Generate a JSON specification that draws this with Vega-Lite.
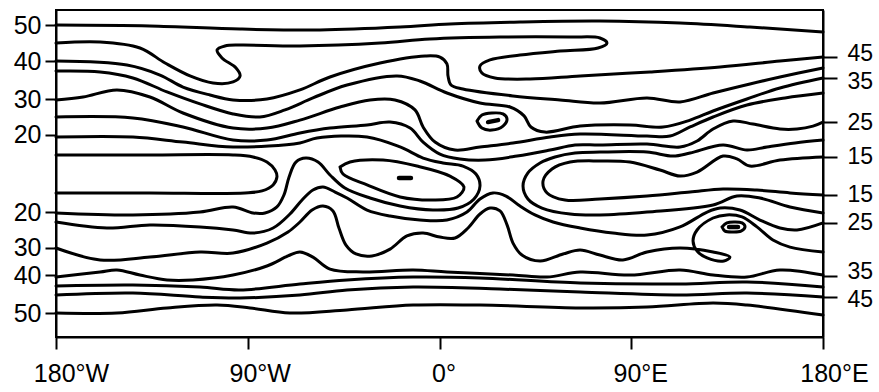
{
"$schema": "https://vega.github.io/schema/vega-lite/v6.json",
"width": 767, "height": 327,
"autosize": {"type": "none"},
"padding": {"left": 56, "top": 10, "right": 56, "bottom": 55},
"background": "white",
"config": {
  "view": {"stroke": "black", "strokeWidth": 2},
  "axis": {"grid": false, "domainColor": "black", "domainWidth": 2, "tickColor": "black", "tickWidth": 2, "labelColor": "black", "labelFont": "Liberation Sans", "labelFontSize": 25, "title": null, "labelOverlap": false}
},
"datasets": {"contours": [
{"c":"N50","i":0,"lon":-180,"lat":81.7},{"c":"N50","i":1,"lon":-135.9,"lat":81.2},{"c":"N50","i":2,"lon":-93.6,"lat":79.5},{"c":"N50","i":3,"lon":-56.1,"lat":79.0},{"c":"N50","i":4,"lon":-18.5,"lat":80.6},{"c":"N50","i":5,"lon":4.9,"lat":82.3},{"c":"N50","i":6,"lon":37.8,"lat":83.4},{"c":"N50","i":7,"lon":75.3,"lat":83.9},{"c":"N50","i":8,"lon":112.9,"lat":82.8},{"c":"N50","i":9,"lon":145.7,"lat":80.6},{"c":"N50","i":10,"lon":180,"lat":77.9},
{"c":"N45","i":0,"lon":-180,"lat":71.8},{"c":"N45","i":1,"lon":-159.3,"lat":72.4},{"c":"N45","i":2,"lon":-140.6,"lat":69.1},{"c":"N45","i":3,"lon":-128.8,"lat":60.8},{"c":"N45","i":4,"lon":-117.1,"lat":53.7},{"c":"N45","i":5,"lon":-106.3,"lat":49.8},{"c":"N45","i":6,"lon":-96.9,"lat":50.4},{"c":"N45","i":7,"lon":-93.6,"lat":53.7},{"c":"N45","i":8,"lon":-95.5,"lat":58.1},{"c":"N45","i":9,"lon":-102.1,"lat":63.6},{"c":"N45","i":10,"lon":-104.4,"lat":68.0},{"c":"N45","i":11,"lon":-100.7,"lat":70.2},{"c":"N45","i":12,"lon":-93.6,"lat":70.7},{"c":"N45","i":13,"lon":-65.5,"lat":70.2},{"c":"N45","i":14,"lon":-27.9,"lat":71.8},{"c":"N45","i":15,"lon":-4.5,"lat":74.0},{"c":"N45","i":16,"lon":28.4,"lat":75.1},{"c":"N45","i":17,"lon":61.3,"lat":75.1},{"c":"N45","i":18,"lon":75.3,"lat":74.6},{"c":"N45","i":19,"lon":78.6,"lat":71.8},{"c":"N45","i":20,"lon":74.4,"lat":69.1},{"c":"N45","i":21,"lon":56.6,"lat":67.4},{"c":"N45","i":22,"lon":37.8,"lat":65.2},{"c":"N45","i":23,"lon":23.7,"lat":62.5},{"c":"N45","i":24,"lon":19.0,"lat":59.2},{"c":"N45","i":25,"lon":19.9,"lat":55.3},{"c":"N45","i":26,"lon":26.0,"lat":52.6},{"c":"N45","i":27,"lon":42.5,"lat":52.0},{"c":"N45","i":28,"lon":66.0,"lat":53.7},{"c":"N45","i":29,"lon":98.8,"lat":55.9},{"c":"N45","i":30,"lon":131.7,"lat":58.6},{"c":"N45","i":31,"lon":159.8,"lat":61.9},{"c":"N45","i":32,"lon":180,"lat":64.1},
{"c":"N40","i":0,"lon":-180,"lat":61.9},{"c":"N40","i":1,"lon":-146.7,"lat":59.7},{"c":"N40","i":2,"lon":-131.2,"lat":54.2},{"c":"N40","i":3,"lon":-120.4,"lat":47.6},{"c":"N40","i":4,"lon":-107.7,"lat":43.2},{"c":"N40","i":5,"lon":-96.9,"lat":40.5},{"c":"N40","i":6,"lon":-81.0,"lat":41.0},{"c":"N40","i":7,"lon":-65.5,"lat":46.0},{"c":"N40","i":8,"lon":-51.4,"lat":53.1},{"c":"N40","i":9,"lon":-27.9,"lat":60.8},{"c":"N40","i":10,"lon":-6.8,"lat":64.7},{"c":"N40","i":11,"lon":0.2,"lat":64.1},{"c":"N40","i":12,"lon":3.5,"lat":60.3},{"c":"N40","i":13,"lon":4.0,"lat":53.7},{"c":"N40","i":14,"lon":5.4,"lat":48.7},{"c":"N40","i":15,"lon":11.0,"lat":46.5},{"c":"N40","i":16,"lon":34.5,"lat":42.7},{"c":"N40","i":17,"lon":56.6,"lat":40.5},{"c":"N40","i":18,"lon":75.3,"lat":38.8},{"c":"N40","i":19,"lon":97.4,"lat":41.6},{"c":"N40","i":20,"lon":112.9,"lat":39.4},{"c":"N40","i":21,"lon":128.4,"lat":44.3},{"c":"N40","i":22,"lon":145.7,"lat":49.3},{"c":"N40","i":23,"lon":159.8,"lat":53.1},{"c":"N40","i":24,"lon":180,"lat":58.1},
{"c":"N35","i":0,"lon":-180,"lat":56.4},{"c":"N35","i":1,"lon":-159.3,"lat":55.9},{"c":"N35","i":2,"lon":-143.9,"lat":52.6},{"c":"N35","i":3,"lon":-127.9,"lat":44.9},{"c":"N35","i":4,"lon":-112.4,"lat":38.3},{"c":"N35","i":5,"lon":-96.9,"lat":32.8},{"c":"N35","i":6,"lon":-84.3,"lat":31.1},{"c":"N35","i":7,"lon":-72.5,"lat":35.0},{"c":"N35","i":8,"lon":-59.4,"lat":41.6},{"c":"N35","i":9,"lon":-43.4,"lat":48.7},{"c":"N35","i":10,"lon":-19.9,"lat":53.7},{"c":"N35","i":11,"lon":-9.2,"lat":50.9},{"c":"N35","i":12,"lon":3.5,"lat":44.3},{"c":"N35","i":13,"lon":19.0,"lat":38.8},{"c":"N35","i":14,"lon":33.1,"lat":36.6},{"c":"N35","i":15,"lon":39.7,"lat":31.7},{"c":"N35","i":16,"lon":42.9,"lat":25.6},{"c":"N35","i":17,"lon":49.5,"lat":22.8},{"c":"N35","i":18,"lon":66.0,"lat":26.1},{"c":"N35","i":19,"lon":89.4,"lat":26.7},{"c":"N35","i":20,"lon":104.9,"lat":25.6},{"c":"N35","i":21,"lon":117.6,"lat":29.4},{"c":"N35","i":22,"lon":128.4,"lat":34.4},{"c":"N35","i":23,"lon":144.3,"lat":41.0},{"c":"N35","i":24,"lon":159.8,"lat":47.1},{"c":"N35","i":25,"lon":180,"lat":52.6},
{"c":"N30","i":0,"lon":-180,"lat":40.5},{"c":"N30","i":1,"lon":-167.3,"lat":42.1},{"c":"N30","i":2,"lon":-151.4,"lat":46.0},{"c":"N30","i":3,"lon":-135.9,"lat":42.1},{"c":"N30","i":4,"lon":-120.4,"lat":33.3},{"c":"N30","i":5,"lon":-96.9,"lat":25.0},{"c":"N30","i":6,"lon":-81.0,"lat":25.0},{"c":"N30","i":7,"lon":-65.5,"lat":29.4},{"c":"N30","i":8,"lon":-46.7,"lat":36.6},{"c":"N30","i":9,"lon":-32.6,"lat":40.5},{"c":"N30","i":10,"lon":-20.9,"lat":40.5},{"c":"N30","i":11,"lon":-11.5,"lat":35.0},{"c":"N30","i":12,"lon":-7.7,"lat":25.6},{"c":"N30","i":13,"lon":-2.1,"lat":17.3},{"c":"N30","i":14,"lon":7.3,"lat":12.9},{"c":"N30","i":15,"lon":19.0,"lat":14.6},{"c":"N30","i":16,"lon":34.5,"lat":16.8},{"c":"N30","i":17,"lon":51.9,"lat":20.1},{"c":"N30","i":18,"lon":66.0,"lat":21.7},{"c":"N30","i":19,"lon":97.4,"lat":20.6},{"c":"N30","i":20,"lon":108.2,"lat":20.6},{"c":"N30","i":21,"lon":117.6,"lat":25.6},{"c":"N30","i":22,"lon":128.4,"lat":31.1},{"c":"N30","i":23,"lon":144.3,"lat":37.7},{"c":"N30","i":24,"lon":162.2,"lat":41.6},{"c":"N30","i":25,"lon":180,"lat":44.3},
{"c":"N25","i":0,"lon":-180,"lat":31.1},{"c":"N25","i":1,"lon":-143.9,"lat":30.6},{"c":"N25","i":2,"lon":-120.4,"lat":25.6},{"c":"N25","i":3,"lon":-96.9,"lat":18.4},{"c":"N25","i":4,"lon":-81.0,"lat":18.4},{"c":"N25","i":5,"lon":-65.5,"lat":22.3},{"c":"N25","i":6,"lon":-51.4,"lat":25.0},{"c":"N25","i":7,"lon":-34.0,"lat":26.7},{"c":"N25","i":8,"lon":-23.2,"lat":28.3},{"c":"N25","i":9,"lon":-13.8,"lat":25.0},{"c":"N25","i":10,"lon":-7.7,"lat":17.3},{"c":"N25","i":11,"lon":0.2,"lat":10.7},{"c":"N25","i":12,"lon":9.6,"lat":8.0},{"c":"N25","i":13,"lon":21.4,"lat":7.4},{"c":"N25","i":14,"lon":36.4,"lat":9.6},{"c":"N25","i":15,"lon":51.9,"lat":12.9},{"c":"N25","i":16,"lon":63.6,"lat":15.7},{"c":"N25","i":17,"lon":75.3,"lat":15.7},{"c":"N25","i":18,"lon":97.4,"lat":16.2},{"c":"N25","i":19,"lon":112.9,"lat":14.6},{"c":"N25","i":20,"lon":120.9,"lat":17.9},{"c":"N25","i":21,"lon":128.4,"lat":24.5},{"c":"N25","i":22,"lon":137.8,"lat":28.9},{"c":"N25","i":23,"lon":147.1,"lat":27.2},{"c":"N25","i":24,"lon":159.8,"lat":24.5},{"c":"N25","i":25,"lon":167.8,"lat":24.5},{"c":"N25","i":26,"lon":175.3,"lat":26.1},{"c":"N25","i":27,"lon":180,"lat":28.3},
{"c":"C20L","i":0,"lon":-180,"lat":20.1},{"c":"C20L","i":1,"lon":-143.9,"lat":20.1},{"c":"C20L","i":2,"lon":-120.4,"lat":17.3},{"c":"C20L","i":3,"lon":-96.9,"lat":14.6},{"c":"C20L","i":4,"lon":-65.5,"lat":16.8},{"c":"C20L","i":5,"lon":-57.5,"lat":19.5},{"c":"C20L","i":6,"lon":-34.0,"lat":20.1},{"c":"C20L","i":7,"lon":-18.5,"lat":14.6},{"c":"C20L","i":8,"lon":-7.7,"lat":8.5},{"c":"C20L","i":9,"lon":1.6,"lat":5.8},{"c":"C20L","i":10,"lon":11.0,"lat":4.1},{"c":"C20L","i":11,"lon":17.1,"lat":-0.3},{"c":"C20L","i":12,"lon":19.0,"lat":-6.9},{"c":"C20L","i":13,"lon":16.2,"lat":-14.0},{"c":"C20L","i":14,"lon":8.7,"lat":-19.0},{"c":"C20L","i":15,"lon":-3.1,"lat":-20.1},{"c":"C20L","i":16,"lon":-18.5,"lat":-17.9},{"c":"C20L","i":17,"lon":-32.6,"lat":-13.5},{"c":"C20L","i":18,"lon":-44.4,"lat":-8.0},{"c":"C20L","i":19,"lon":-51.4,"lat":-0.8},{"c":"C20L","i":20,"lon":-57.0,"lat":6.3},{"c":"C20L","i":21,"lon":-62.7,"lat":8.5},{"c":"C20L","i":22,"lon":-67.4,"lat":6.3},{"c":"C20L","i":23,"lon":-70.6,"lat":-1.9},{"c":"C20L","i":24,"lon":-73.0,"lat":-11.8},{"c":"C20L","i":25,"lon":-76.3,"lat":-18.4},{"c":"C20L","i":26,"lon":-81.9,"lat":-21.7},{"c":"C20L","i":27,"lon":-87.5,"lat":-21.7},{"c":"C20L","i":28,"lon":-96.9,"lat":-18.4},{"c":"C20L","i":29,"lon":-112.4,"lat":-21.2},{"c":"C20L","i":30,"lon":-143.9,"lat":-22.8},{"c":"C20L","i":31,"lon":-180,"lat":-21.7},
{"c":"L15","i":0,"lon":-180,"lat":10.2},{"c":"L15","i":1,"lon":-135.9,"lat":10.2},{"c":"L15","i":2,"lon":-96.9,"lat":10.2},{"c":"L15","i":3,"lon":-87.5,"lat":9.1},{"c":"L15","i":4,"lon":-81.0,"lat":6.3},{"c":"L15","i":5,"lon":-77.2,"lat":1.9},{"c":"L15","i":6,"lon":-76.3,"lat":-1.9},{"c":"L15","i":7,"lon":-78.1,"lat":-6.3},{"c":"L15","i":8,"lon":-83.3,"lat":-9.6},{"c":"L15","i":9,"lon":-91.3,"lat":-10.7},{"c":"L15","i":10,"lon":-135.9,"lat":-10.7},{"c":"L15","i":11,"lon":-180,"lat":-10.7},
{"c":"OVAL","i":0,"lon":-46.7,"lat":3.6},{"c":"OVAL","i":1,"lon":-42.0,"lat":6.3},{"c":"OVAL","i":2,"lon":-26.5,"lat":7.4},{"c":"OVAL","i":3,"lon":-10.6,"lat":4.1},{"c":"OVAL","i":4,"lon":4.9,"lat":-1.4},{"c":"OVAL","i":5,"lon":11.5,"lat":-7.4},{"c":"OVAL","i":6,"lon":8.2,"lat":-12.9},{"c":"OVAL","i":7,"lon":-3.1,"lat":-14.6},{"c":"OVAL","i":8,"lon":-18.5,"lat":-12.9},{"c":"OVAL","i":9,"lon":-34.0,"lat":-6.3},{"c":"OVAL","i":10,"lon":-45.3,"lat":-0.3},{"c":"OVAL","i":11,"lon":-46.7,"lat":3.6},
{"c":"S25","i":0,"lon":-180,"lat":-26.7},{"c":"S25","i":1,"lon":-156.1,"lat":-30.0},{"c":"S25","i":2,"lon":-135.9,"lat":-28.3},{"c":"S25","i":3,"lon":-112.4,"lat":-29.4},{"c":"S25","i":4,"lon":-96.9,"lat":-31.1},{"c":"S25","i":5,"lon":-87.5,"lat":-32.8},{"c":"S25","i":6,"lon":-78.1,"lat":-30.0},{"c":"S25","i":7,"lon":-70.2,"lat":-22.3},{"c":"S25","i":8,"lon":-64.5,"lat":-14.6},{"c":"S25","i":9,"lon":-59.4,"lat":-9.1},{"c":"S25","i":10,"lon":-54.7,"lat":-7.4},{"c":"S25","i":11,"lon":-49.0,"lat":-10.2},{"c":"S25","i":12,"lon":-43.4,"lat":-13.5},{"c":"S25","i":13,"lon":-34.0,"lat":-20.1},{"c":"S25","i":14,"lon":-23.2,"lat":-23.4},{"c":"S25","i":15,"lon":-9.2,"lat":-25.6},{"c":"S25","i":16,"lon":3.5,"lat":-25.6},{"c":"S25","i":17,"lon":12.9,"lat":-21.2},{"c":"S25","i":18,"lon":19.0,"lat":-14.0},{"c":"S25","i":19,"lon":25.1,"lat":-10.7},{"c":"S25","i":20,"lon":31.2,"lat":-12.4},{"c":"S25","i":21,"lon":37.8,"lat":-17.9},{"c":"S25","i":22,"lon":44.8,"lat":-22.8},{"c":"S25","i":23,"lon":53.3,"lat":-26.7},{"c":"S25","i":24,"lon":66.0,"lat":-30.0},{"c":"S25","i":25,"lon":81.4,"lat":-32.8},{"c":"S25","i":26,"lon":97.4,"lat":-33.9},{"c":"S25","i":27,"lon":112.9,"lat":-29.4},{"c":"S25","i":28,"lon":125.6,"lat":-21.2},{"c":"S25","i":29,"lon":131.7,"lat":-19.0},{"c":"S25","i":30,"lon":141.0,"lat":-20.1},{"c":"S25","i":31,"lon":150.4,"lat":-25.6},{"c":"S25","i":32,"lon":159.8,"lat":-30.0},{"c":"S25","i":33,"lon":167.8,"lat":-31.1},{"c":"S25","i":34,"lon":180,"lat":-27.2},
{"c":"C20R","i":0,"lon":180,"lat":18.4},{"c":"C20R","i":1,"lon":166.9,"lat":16.8},{"c":"C20R","i":2,"lon":153.7,"lat":14.6},{"c":"C20R","i":3,"lon":144.3,"lat":12.9},{"c":"C20R","i":4,"lon":133.1,"lat":15.7},{"c":"C20R","i":5,"lon":117.6,"lat":11.3},{"c":"C20R","i":6,"lon":109.6,"lat":9.6},{"c":"C20R","i":7,"lon":97.4,"lat":11.8},{"c":"C20R","i":8,"lon":75.3,"lat":11.8},{"c":"C20R","i":9,"lon":63.6,"lat":11.3},{"c":"C20R","i":10,"lon":54.2,"lat":9.1},{"c":"C20R","i":11,"lon":47.2,"lat":5.8},{"c":"C20R","i":12,"lon":41.5,"lat":0.3},{"c":"C20R","i":13,"lon":39.2,"lat":-6.9},{"c":"C20R","i":14,"lon":41.5,"lat":-14.0},{"c":"C20R","i":15,"lon":48.1,"lat":-19.0},{"c":"C20R","i":16,"lon":61.3,"lat":-22.3},{"c":"C20R","i":17,"lon":75.3,"lat":-22.8},{"c":"C20R","i":18,"lon":97.4,"lat":-21.2},{"c":"C20R","i":19,"lon":128.4,"lat":-17.3},{"c":"C20R","i":20,"lon":139.6,"lat":-12.4},{"c":"C20R","i":21,"lon":150.4,"lat":-13.5},{"c":"C20R","i":22,"lon":164.5,"lat":-18.4},{"c":"C20R","i":23,"lon":180,"lat":-21.7},
{"c":"R15","i":0,"lon":180,"lat":9.1},{"c":"R15","i":1,"lon":159.8,"lat":7.4},{"c":"R15","i":2,"lon":145.7,"lat":4.1},{"c":"R15","i":3,"lon":139.6,"lat":8.0},{"c":"R15","i":4,"lon":133.1,"lat":9.6},{"c":"R15","i":5,"lon":120.9,"lat":0.8},{"c":"R15","i":6,"lon":112.9,"lat":-1.4},{"c":"R15","i":7,"lon":103.5,"lat":1.9},{"c":"R15","i":8,"lon":89.4,"lat":6.3},{"c":"R15","i":9,"lon":75.3,"lat":6.9},{"c":"R15","i":10,"lon":61.3,"lat":6.3},{"c":"R15","i":11,"lon":52.8,"lat":2.5},{"c":"R15","i":12,"lon":48.6,"lat":-4.1},{"c":"R15","i":13,"lon":50.5,"lat":-10.7},{"c":"R15","i":14,"lon":58.9,"lat":-14.6},{"c":"R15","i":15,"lon":75.3,"lat":-14.0},{"c":"R15","i":16,"lon":97.4,"lat":-12.4},{"c":"R15","i":17,"lon":117.6,"lat":-10.2},{"c":"R15","i":18,"lon":133.1,"lat":-8.5},{"c":"R15","i":19,"lon":149.0,"lat":-9.1},{"c":"R15","i":20,"lon":164.5,"lat":-10.7},{"c":"R15","i":21,"lon":180,"lat":-11.8},
{"c":"S30","i":0,"lon":-180,"lat":-41.0},{"c":"S30","i":1,"lon":-159.3,"lat":-47.6},{"c":"S30","i":2,"lon":-135.9,"lat":-46.0},{"c":"S30","i":3,"lon":-112.4,"lat":-43.2},{"c":"S30","i":4,"lon":-96.9,"lat":-43.8},{"c":"S30","i":5,"lon":-81.0,"lat":-38.3},{"c":"S30","i":6,"lon":-71.1,"lat":-32.2},{"c":"S30","i":7,"lon":-65.5,"lat":-26.7},{"c":"S30","i":8,"lon":-59.8,"lat":-20.1},{"c":"S30","i":9,"lon":-54.7,"lat":-17.9},{"c":"S30","i":10,"lon":-50.0,"lat":-20.6},{"c":"S30","i":11,"lon":-47.2,"lat":-30.0},{"c":"S30","i":12,"lon":-43.9,"lat":-39.4},{"c":"S30","i":13,"lon":-39.2,"lat":-44.3},{"c":"S30","i":14,"lon":-31.7,"lat":-45.4},{"c":"S30","i":15,"lon":-23.2,"lat":-41.6},{"c":"S30","i":16,"lon":-15.3,"lat":-34.4},{"c":"S30","i":17,"lon":-7.7,"lat":-32.8},{"c":"S30","i":18,"lon":0.2,"lat":-35.0},{"c":"S30","i":19,"lon":7.3,"lat":-35.5},{"c":"S30","i":20,"lon":13.4,"lat":-30.0},{"c":"S30","i":21,"lon":19.0,"lat":-22.3},{"c":"S30","i":22,"lon":23.7,"lat":-19.0},{"c":"S30","i":23,"lon":28.4,"lat":-20.6},{"c":"S30","i":24,"lon":31.7,"lat":-28.3},{"c":"S30","i":25,"lon":34.5,"lat":-38.3},{"c":"S30","i":26,"lon":38.7,"lat":-44.9},{"c":"S30","i":27,"lon":47.2,"lat":-48.2},{"c":"S30","i":28,"lon":58.0,"lat":-44.3},{"c":"S30","i":29,"lon":66.0,"lat":-42.1},{"c":"S30","i":30,"lon":75.3,"lat":-44.9},{"c":"S30","i":31,"lon":86.1,"lat":-47.6},{"c":"S30","i":32,"lon":97.4,"lat":-43.2},{"c":"S30","i":33,"lon":112.9,"lat":-41.0},{"c":"S30","i":34,"lon":128.4,"lat":-43.2},{"c":"S30","i":35,"lon":136.3,"lat":-46.0},{"c":"S30","i":36,"lon":133.5,"lat":-48.2},{"c":"S30","i":37,"lon":125.6,"lat":-46.5},{"c":"S30","i":38,"lon":120.9,"lat":-42.7},{"c":"S30","i":39,"lon":119.0,"lat":-37.2},{"c":"S30","i":40,"lon":120.9,"lat":-31.1},{"c":"S30","i":41,"lon":128.4,"lat":-24.5},{"c":"S30","i":42,"lon":134.9,"lat":-22.8},{"c":"S30","i":43,"lon":142.0,"lat":-23.9},{"c":"S30","i":44,"lon":149.0,"lat":-29.4},{"c":"S30","i":45,"lon":156.5,"lat":-36.6},{"c":"S30","i":46,"lon":164.5,"lat":-40.5},{"c":"S30","i":47,"lon":180,"lat":-43.2},
{"c":"S35","i":0,"lon":-180,"lat":-57.0},{"c":"S35","i":1,"lon":-159.3,"lat":-54.2},{"c":"S35","i":2,"lon":-151.4,"lat":-53.1},{"c":"S35","i":3,"lon":-140.6,"lat":-55.9},{"c":"S35","i":4,"lon":-127.9,"lat":-58.6},{"c":"S35","i":5,"lon":-115.7,"lat":-58.6},{"c":"S35","i":6,"lon":-96.9,"lat":-55.9},{"c":"S35","i":7,"lon":-81.0,"lat":-50.9},{"c":"S35","i":8,"lon":-71.1,"lat":-45.4},{"c":"S35","i":9,"lon":-65.5,"lat":-43.2},{"c":"S35","i":10,"lon":-59.4,"lat":-46.0},{"c":"S35","i":11,"lon":-51.4,"lat":-52.6},{"c":"S35","i":12,"lon":-35.9,"lat":-54.2},{"c":"S35","i":13,"lon":-12.4,"lat":-53.1},{"c":"S35","i":14,"lon":3.5,"lat":-54.2},{"c":"S35","i":15,"lon":34.5,"lat":-55.9},{"c":"S35","i":16,"lon":50.5,"lat":-57.0},{"c":"S35","i":17,"lon":66.0,"lat":-54.2},{"c":"S35","i":18,"lon":89.4,"lat":-55.9},{"c":"S35","i":19,"lon":112.9,"lat":-53.1},{"c":"S35","i":20,"lon":128.4,"lat":-55.9},{"c":"S35","i":21,"lon":144.3,"lat":-57.0},{"c":"S35","i":22,"lon":159.8,"lat":-53.1},{"c":"S35","i":23,"lon":180,"lat":-55.9},
{"c":"S40","i":0,"lon":-180,"lat":-61.9},{"c":"S40","i":1,"lon":-143.9,"lat":-61.4},{"c":"S40","i":2,"lon":-112.4,"lat":-62.5},{"c":"S40","i":3,"lon":-93.6,"lat":-64.1},{"c":"S40","i":4,"lon":-65.5,"lat":-60.8},{"c":"S40","i":5,"lon":-43.4,"lat":-58.6},{"c":"S40","i":6,"lon":-12.4,"lat":-57.0},{"c":"S40","i":7,"lon":19.0,"lat":-57.5},{"c":"S40","i":8,"lon":66.0,"lat":-60.3},{"c":"S40","i":9,"lon":112.9,"lat":-60.8},{"c":"S40","i":10,"lon":144.3,"lat":-59.7},{"c":"S40","i":11,"lon":180,"lat":-62.5},
{"c":"S45","i":0,"lon":-180,"lat":-66.9},{"c":"S45","i":1,"lon":-143.9,"lat":-65.8},{"c":"S45","i":2,"lon":-112.4,"lat":-68.0},{"c":"S45","i":3,"lon":-93.6,"lat":-68.5},{"c":"S45","i":4,"lon":-65.5,"lat":-66.9},{"c":"S45","i":5,"lon":-43.4,"lat":-64.1},{"c":"S45","i":6,"lon":-12.4,"lat":-62.5},{"c":"S45","i":7,"lon":28.4,"lat":-63.6},{"c":"S45","i":8,"lon":66.0,"lat":-65.2},{"c":"S45","i":9,"lon":112.9,"lat":-66.9},{"c":"S45","i":10,"lon":144.3,"lat":-65.8},{"c":"S45","i":11,"lon":180,"lat":-68.0},
{"c":"S50","i":0,"lon":-180,"lat":-76.8},{"c":"S50","i":1,"lon":-151.4,"lat":-76.8},{"c":"S50","i":2,"lon":-127.9,"lat":-74.0},{"c":"S50","i":3,"lon":-104.4,"lat":-72.4},{"c":"S50","i":4,"lon":-88.9,"lat":-74.0},{"c":"S50","i":5,"lon":-70.2,"lat":-76.8},{"c":"S50","i":6,"lon":-43.4,"lat":-75.1},{"c":"S50","i":7,"lon":-12.4,"lat":-72.4},{"c":"S50","i":8,"lon":19.0,"lat":-72.4},{"c":"S50","i":9,"lon":66.0,"lat":-74.0},{"c":"S50","i":10,"lon":97.4,"lat":-73.5},{"c":"S50","i":11,"lon":128.4,"lat":-71.3},{"c":"S50","i":12,"lon":144.3,"lat":-72.4},{"c":"S50","i":13,"lon":180,"lat":-77.9},
{"c":"NOVAL","i":0,"lon":17.6,"lat":28.9},{"c":"NOVAL","i":1,"lon":19.9,"lat":32.2},{"c":"NOVAL","i":2,"lon":24.6,"lat":33.3},{"c":"NOVAL","i":3,"lon":29.8,"lat":32.8},{"c":"NOVAL","i":4,"lon":31.7,"lat":30.0},{"c":"NOVAL","i":5,"lon":29.8,"lat":26.1},{"c":"NOVAL","i":6,"lon":24.6,"lat":23.9},{"c":"NOVAL","i":7,"lon":19.9,"lat":25.0},{"c":"NOVAL","i":8,"lon":17.6,"lat":28.9},
{"c":"SOVAL","i":0,"lon":132.6,"lat":-29.4},{"c":"SOVAL","i":1,"lon":134.9,"lat":-27.2},{"c":"SOVAL","i":2,"lon":138.2,"lat":-26.7},{"c":"SOVAL","i":3,"lon":142.0,"lat":-27.2},{"c":"SOVAL","i":4,"lon":143.4,"lat":-29.4},{"c":"SOVAL","i":5,"lon":141.5,"lat":-31.7},{"c":"SOVAL","i":6,"lon":137.8,"lat":-32.2},{"c":"SOVAL","i":7,"lon":134.0,"lat":-31.7},{"c":"SOVAL","i":8,"lon":132.6,"lat":-29.4},
{"c":"min1","i":0,"lon":-19.0,"lat":-2.5},{"c":"min1","i":1,"lon":-13.4,"lat":-2.5},
{"c":"min2","i":0,"lon":22.8,"lat":28.3},{"c":"min2","i":1,"lon":27.5,"lat":29.4},
{"c":"min3","i":0,"lon":135.9,"lat":-29.4},{"c":"min3","i":1,"lon":140.1,"lat":-29.4}
]},
"layer": [
  {
    "data": {"name": "contours"},
    "transform": [{"filter": "indexof(datum.c, 'min') < 0"}],
    "mark": {"type": "line", "interpolate": "catmull-rom", "strokeWidth": 3, "color": "black", "strokeCap": "round", "strokeJoin": "round"},
    "encoding": {
      "x": {"field": "lon", "type": "quantitative", "scale": {"domain": [-180, 180], "nice": false, "zero": false},
            "axis": {"orient": "bottom", "values": [-180, -90, 0, 90, 180], "labelExpr": "datum.value == -180 ? '180°W' : datum.value == -90 ? '90°W' : datum.value == 0 ? '0°' : datum.value == 90 ? '90°E' : '180°E'", "tickSize": 12, "labelPadding": 12, "labelFlush": false, "labelFontSize": 25, "title": null,
                     "labelOffset": {"condition": [{"test": "datum.value == -180", "value": 15}, {"test": "datum.value == -90", "value": 12}, {"test": "datum.value == 0", "value": 4}, {"test": "datum.value == 90", "value": 9}], "value": 11}}},
      "y": {"field": "lat", "type": "quantitative", "scale": {"domain": [-90, 90], "nice": false, "zero": false},
            "axis": {"orient": "left", "values": [81.7, 61.9, 41.0, 21.2, -21.2, -41.0, -55.9, -76.8], "labelExpr": "abs(datum.value) > 70 ? '50' : abs(datum.value) > 50 ? '40' : abs(datum.value) > 30 ? '30' : '20'", "tickSize": 11, "labelPadding": 4, "title": null}},
      "detail": {"field": "c"},
      "order": {"field": "i", "type": "quantitative"}
    }
  },
  {
    "data": {"name": "contours"},
    "transform": [{"filter": "indexof(datum.c, 'min') >= 0"}],
    "mark": {"type": "line", "strokeWidth": 4.5, "color": "black", "strokeCap": "round"},
    "encoding": {
      "x": {"field": "lon", "type": "quantitative"},
      "y": {"field": "lat", "type": "quantitative",
            "axis": {"orient": "right", "values": [64.1, 52.6, 28.3, 9.1, -11.8, -27.2, -56.4, -68.0], "labelExpr": "abs(datum.value) > 60 ? '45' : abs(datum.value) > 40 ? '35' : abs(datum.value) > 20 ? '25' : '15'", "tickSize": 14, "labelPadding": 10, "labelFontSize": 23, "title": null,
                     "labelOffset": {"condition": [{"test": "datum.value > 60", "value": -4}, {"test": "datum.value > 40", "value": 4}, {"test": "datum.value < -60", "value": 2}, {"test": "datum.value < -50", "value": -4}], "value": 0}}},
      "detail": {"field": "c"},
      "order": {"field": "i", "type": "quantitative"}
    }
  }
],
"resolve": {"axis": {"y": "independent"}}
}
